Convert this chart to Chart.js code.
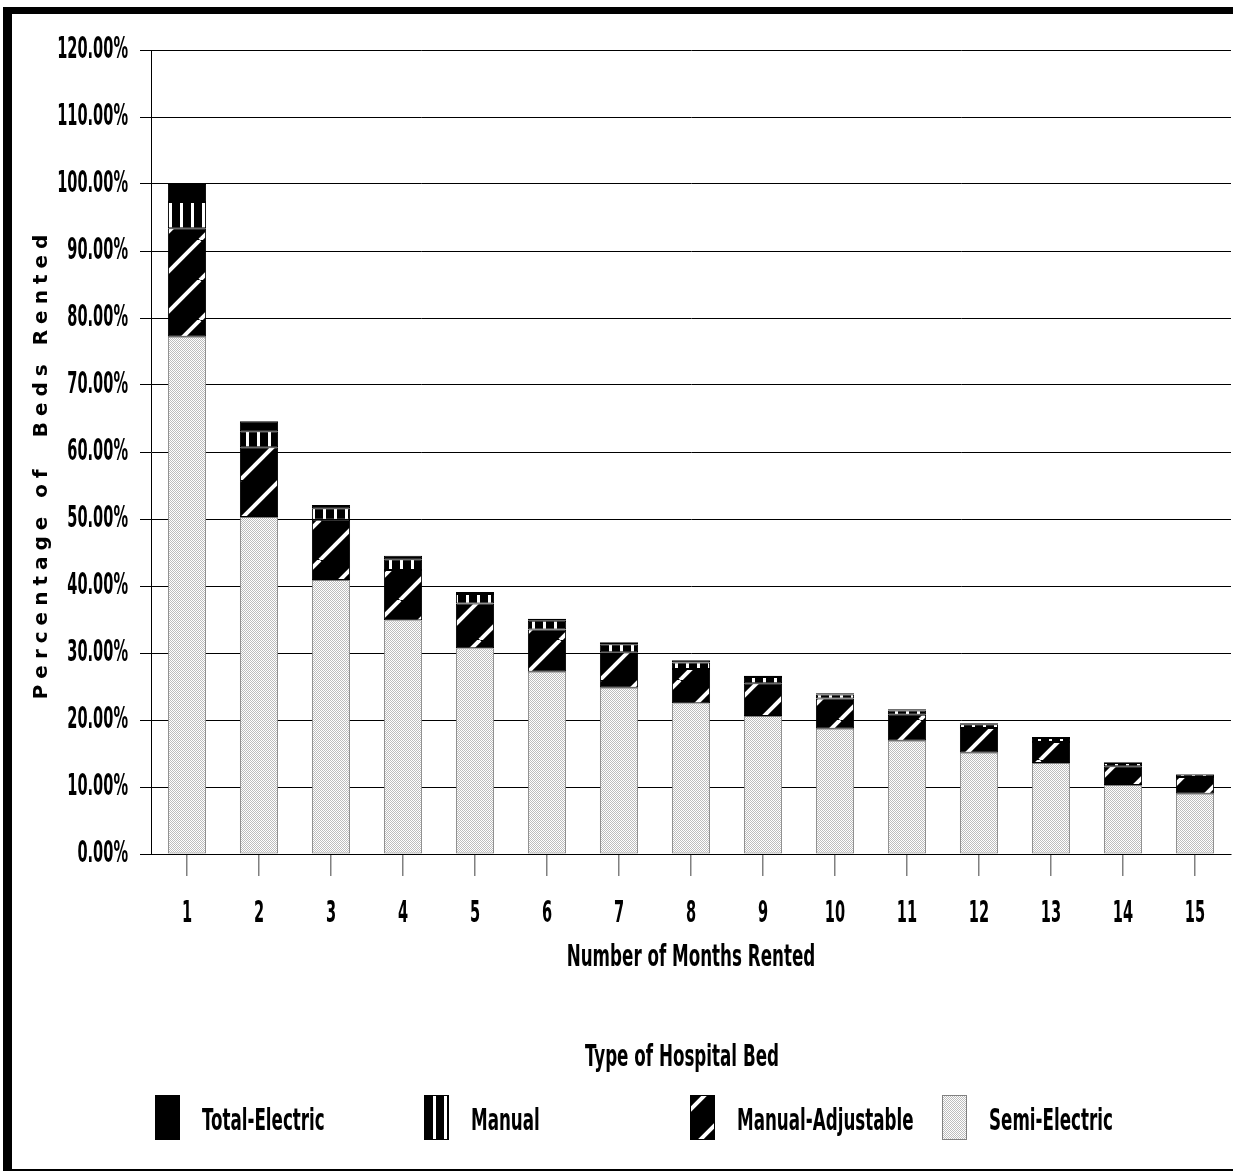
<!DOCTYPE html>
<html>
<head>
<meta charset="utf-8">
<script src="https://cdn.jsdelivr.net/npm/chart.js@4/dist/chart.umd.min.js"></script>
<style>
  html, body { margin: 0; padding: 0; background: #ffffff; }
  #wrap { position: relative; width: 1233px; height: 1171px; }
  canvas { display: block; }
</style>
</head>
<body>
<div id="wrap"><canvas id="c" width="1233" height="1171"></canvas></div>
<script>
// ---- Data ----
const months = ['1','2','3','4','5','6','7','8','9','10','11','12','13','14','15'];
const semiElectric     = [77.2, 50.3, 40.9, 34.9, 30.7, 27.2, 24.8, 22.5, 20.6, 18.7, 16.9, 15.1, 13.6, 10.3, 9.0];
const manualAdjustable = [16.2, 10.4, 9.0, 7.5, 6.7, 6.3, 5.3, 5.1, 4.9, 4.5, 3.9, 3.7, 3.1, 2.8, 2.5];
const manual           = [3.9, 2.4, 1.7, 1.6, 1.4, 1.3, 1.2, 1.0, 0.9, 0.6, 0.6, 0.55, 0.6, 0.5, 0.35];
const totalElectric    = [2.7, 1.5, 0.5, 0.5, 0.3, 0.3, 0.3, 0.3, 0.2, 0.2, 0.2, 0.15, 0.15, 0.1, 0.1];
const seriesNames = ['Semi-Electric', 'Manual-Adjustable', 'Manual', 'Total-Electric'];
const legendOrder = ['Total-Electric', 'Manual', 'Manual-Adjustable', 'Semi-Electric'];
const yTickMin = 0, yTickMax = 120, yTickStep = 10;
const xTitle = 'Number of Months Rented';
const yTitle = 'Percentage of  Beds Rented';
const legendTitle = 'Type of Hospital Bed';

const canvas = document.getElementById('c');
const mainCtx = canvas.getContext('2d');

// Horizontal compression for the narrow (condensed) label face
const SX_NUM = 0.54, SX_TXT = 0.62;
(function () {
  const origFill = mainCtx.fillText.bind(mainCtx);
  const origMeasure = mainCtx.measureText.bind(mainCtx);
  const isNarrow = (c) => c.font.indexOf('Condensed') >= 0;
  const sxFor = (t) => (/[A-Za-z]/.test(String(t)) ? SX_TXT : SX_NUM);
  mainCtx.fillText = function (t, x, y, mw) {
    if (isNarrow(this)) {
      const sx = sxFor(t);
      this.save();
      this.translate(x, y);
      this.scale(sx, 1);
      if (mw !== undefined && mw !== null) origFill(t, 0, 0, mw / sx); else origFill(t, 0, 0);
      this.restore();
    } else {
      if (mw !== undefined && mw !== null) origFill(t, x, y, mw); else origFill(t, x, y);
    }
  };
  mainCtx.measureText = function (t) {
    const m = origMeasure(t);
    if (isNarrow(this)) {
      const sx = sxFor(t);
      return {
        width: m.width * sx,
        actualBoundingBoxAscent: m.actualBoundingBoxAscent,
        actualBoundingBoxDescent: m.actualBoundingBoxDescent,
        actualBoundingBoxLeft: m.actualBoundingBoxLeft * sx,
        actualBoundingBoxRight: m.actualBoundingBoxRight * sx
      };
    }
    return m;
  };
})();

// ---- Patterns ----
function makePattern(w, h, draw) {
  const c = document.createElement('canvas');
  c.width = w; c.height = h;
  const g = c.getContext('2d');
  draw(g, w, h);
  return mainCtx.createPattern(c, 'repeat');
}
const semiPattern = makePattern(2, 2, (g) => {
  g.fillStyle = '#ffffff'; g.fillRect(0, 0, 2, 2);
  g.fillStyle = '#bdbdbd'; g.fillRect(0, 0, 1, 1); g.fillRect(1, 1, 1, 1);
});
const manualPattern = makePattern(11, 11, (g, w, h) => {
  g.fillStyle = '#000000'; g.fillRect(0, 0, w, h);
  g.fillStyle = '#ffffff'; g.fillRect(4, 0, 3, h);
});
const adjPattern = makePattern(40, 40, (g, w, h) => {
  g.fillStyle = '#000000'; g.fillRect(0, 0, w, h);
  g.strokeStyle = '#ffffff'; g.lineWidth = 4;
  for (const o of [-40, 0, 40]) {
    g.beginPath(); g.moveTo(o, 40); g.lineTo(o + 40, 0); g.stroke();
  }
});

const styles = {
  'Semi-Electric':     { bg: semiPattern,   border: '#808080' },
  'Manual-Adjustable': { bg: adjPattern,    border: '#000000' },
  'Manual':            { bg: manualPattern, border: '#000000' },
  'Total-Electric':    { bg: '#000000',     border: '#000000' }
};
const seriesData = {
  'Semi-Electric': semiElectric,
  'Manual-Adjustable': manualAdjustable,
  'Manual': manual,
  'Total-Electric': totalElectric
};

const narrow = "'DejaVu Sans Condensed', sans-serif";
const FS = 30;

// page frame + custom legend
const framePlugin = {
  id: 'frame',
  beforeDraw(chart) {
    const s = chart.scales.y;
    if (s && !s._lsPatched) {
      const orig = s.drawTitle.bind(s);
      s.drawTitle = function () {
        const ctx = this.ctx;
        ctx.save();
        ctx.letterSpacing = '6px';
        ctx.translate(0, 12);
        orig();
        ctx.restore();
      };
      s._lsPatched = true;
    }
  },
  afterDraw(chart) {
    const ctx = chart.ctx;
    ctx.save();
    // border
    ctx.fillStyle = '#000000';
    ctx.fillRect(3, 7, 9, 1164);
    ctx.fillRect(3, 7, 1230, 7);
    ctx.fillRect(3, 1169, 1230, 2);
    // legend title
    ctx.font = 'bold ' + FS + 'px ' + narrow;
    ctx.textBaseline = 'middle';
    ctx.textAlign = 'center';
    ctx.fillText(legendTitle, 682, 1058);
    const cols = [155, 424, 690, 942];
    legendOrder.forEach((name, i) => {
      const x = cols[i], y = 1095;
      ctx.fillStyle = styles[name].bg;
      ctx.fillRect(x, y, 25, 45);
      ctx.strokeStyle = styles[name].border;
      ctx.lineWidth = 1;
      ctx.strokeRect(x + 0.5, y + 0.5, 24, 44);
      ctx.fillStyle = '#000000';
      ctx.textAlign = 'left';
      ctx.fillText(name, x + 47, 1122);
    });
    ctx.restore();
  }
};

new Chart(canvas, {
  type: 'bar',
  data: {
    labels: months,
    datasets: seriesNames.map(name => ({
      label: name,
      data: seriesData[name],
      backgroundColor: styles[name].bg,
      borderColor: styles[name].border,
      borderWidth: 1,
      borderSkipped: false,
      categoryPercentage: 1.0,
      barPercentage: 0.53
    }))
  },
  options: {
    responsive: false,
    devicePixelRatio: 1,
    animation: false,
    layout: { padding: { left: 0, right: 2, top: 50, bottom: 0 } },
    plugins: {
      legend: { display: false },
      tooltip: { enabled: false }
    },
    scales: {
      x: {
        stacked: true,
        grid: { drawOnChartArea: false, offset: false, tickLength: 22, tickColor: '#808080', lineWidth: 1.5 },
        border: { display: true, color: '#000000', width: 1 },
        ticks: { color: '#000000', padding: 20, autoSkip: false, maxRotation: 0, font: { family: narrow, weight: 'bold', size: FS } },
        title: { display: true, text: xTitle, color: '#000000', font: { family: narrow, weight: 'bold', size: FS }, padding: { top: 0, bottom: 195 } },
        afterFit(scale) { scale.height = 317; }
      },
      y: {
        stacked: true,
        min: yTickMin, max: yTickMax,
        grid: { color: '#000000', lineWidth: 1, tickLength: 11, tickColor: '#000000' },
        border: { display: true, color: '#000000', width: 1 },
        ticks: {
          stepSize: yTickStep, color: '#000000', padding: 12,
          font: { family: narrow, weight: 'bold', size: FS },
          callback: v => v.toFixed(2) + '%'
        },
        title: { display: true, text: yTitle, color: '#000000', font: { family: "'DejaVu Sans', sans-serif", weight: 'bold', size: 20 }, padding: { top: 30, bottom: 0 } },
        afterFit(scale) { scale.width = 151; }
      }
    }
  },
  plugins: [framePlugin]
});
</script>
</body>
</html>
